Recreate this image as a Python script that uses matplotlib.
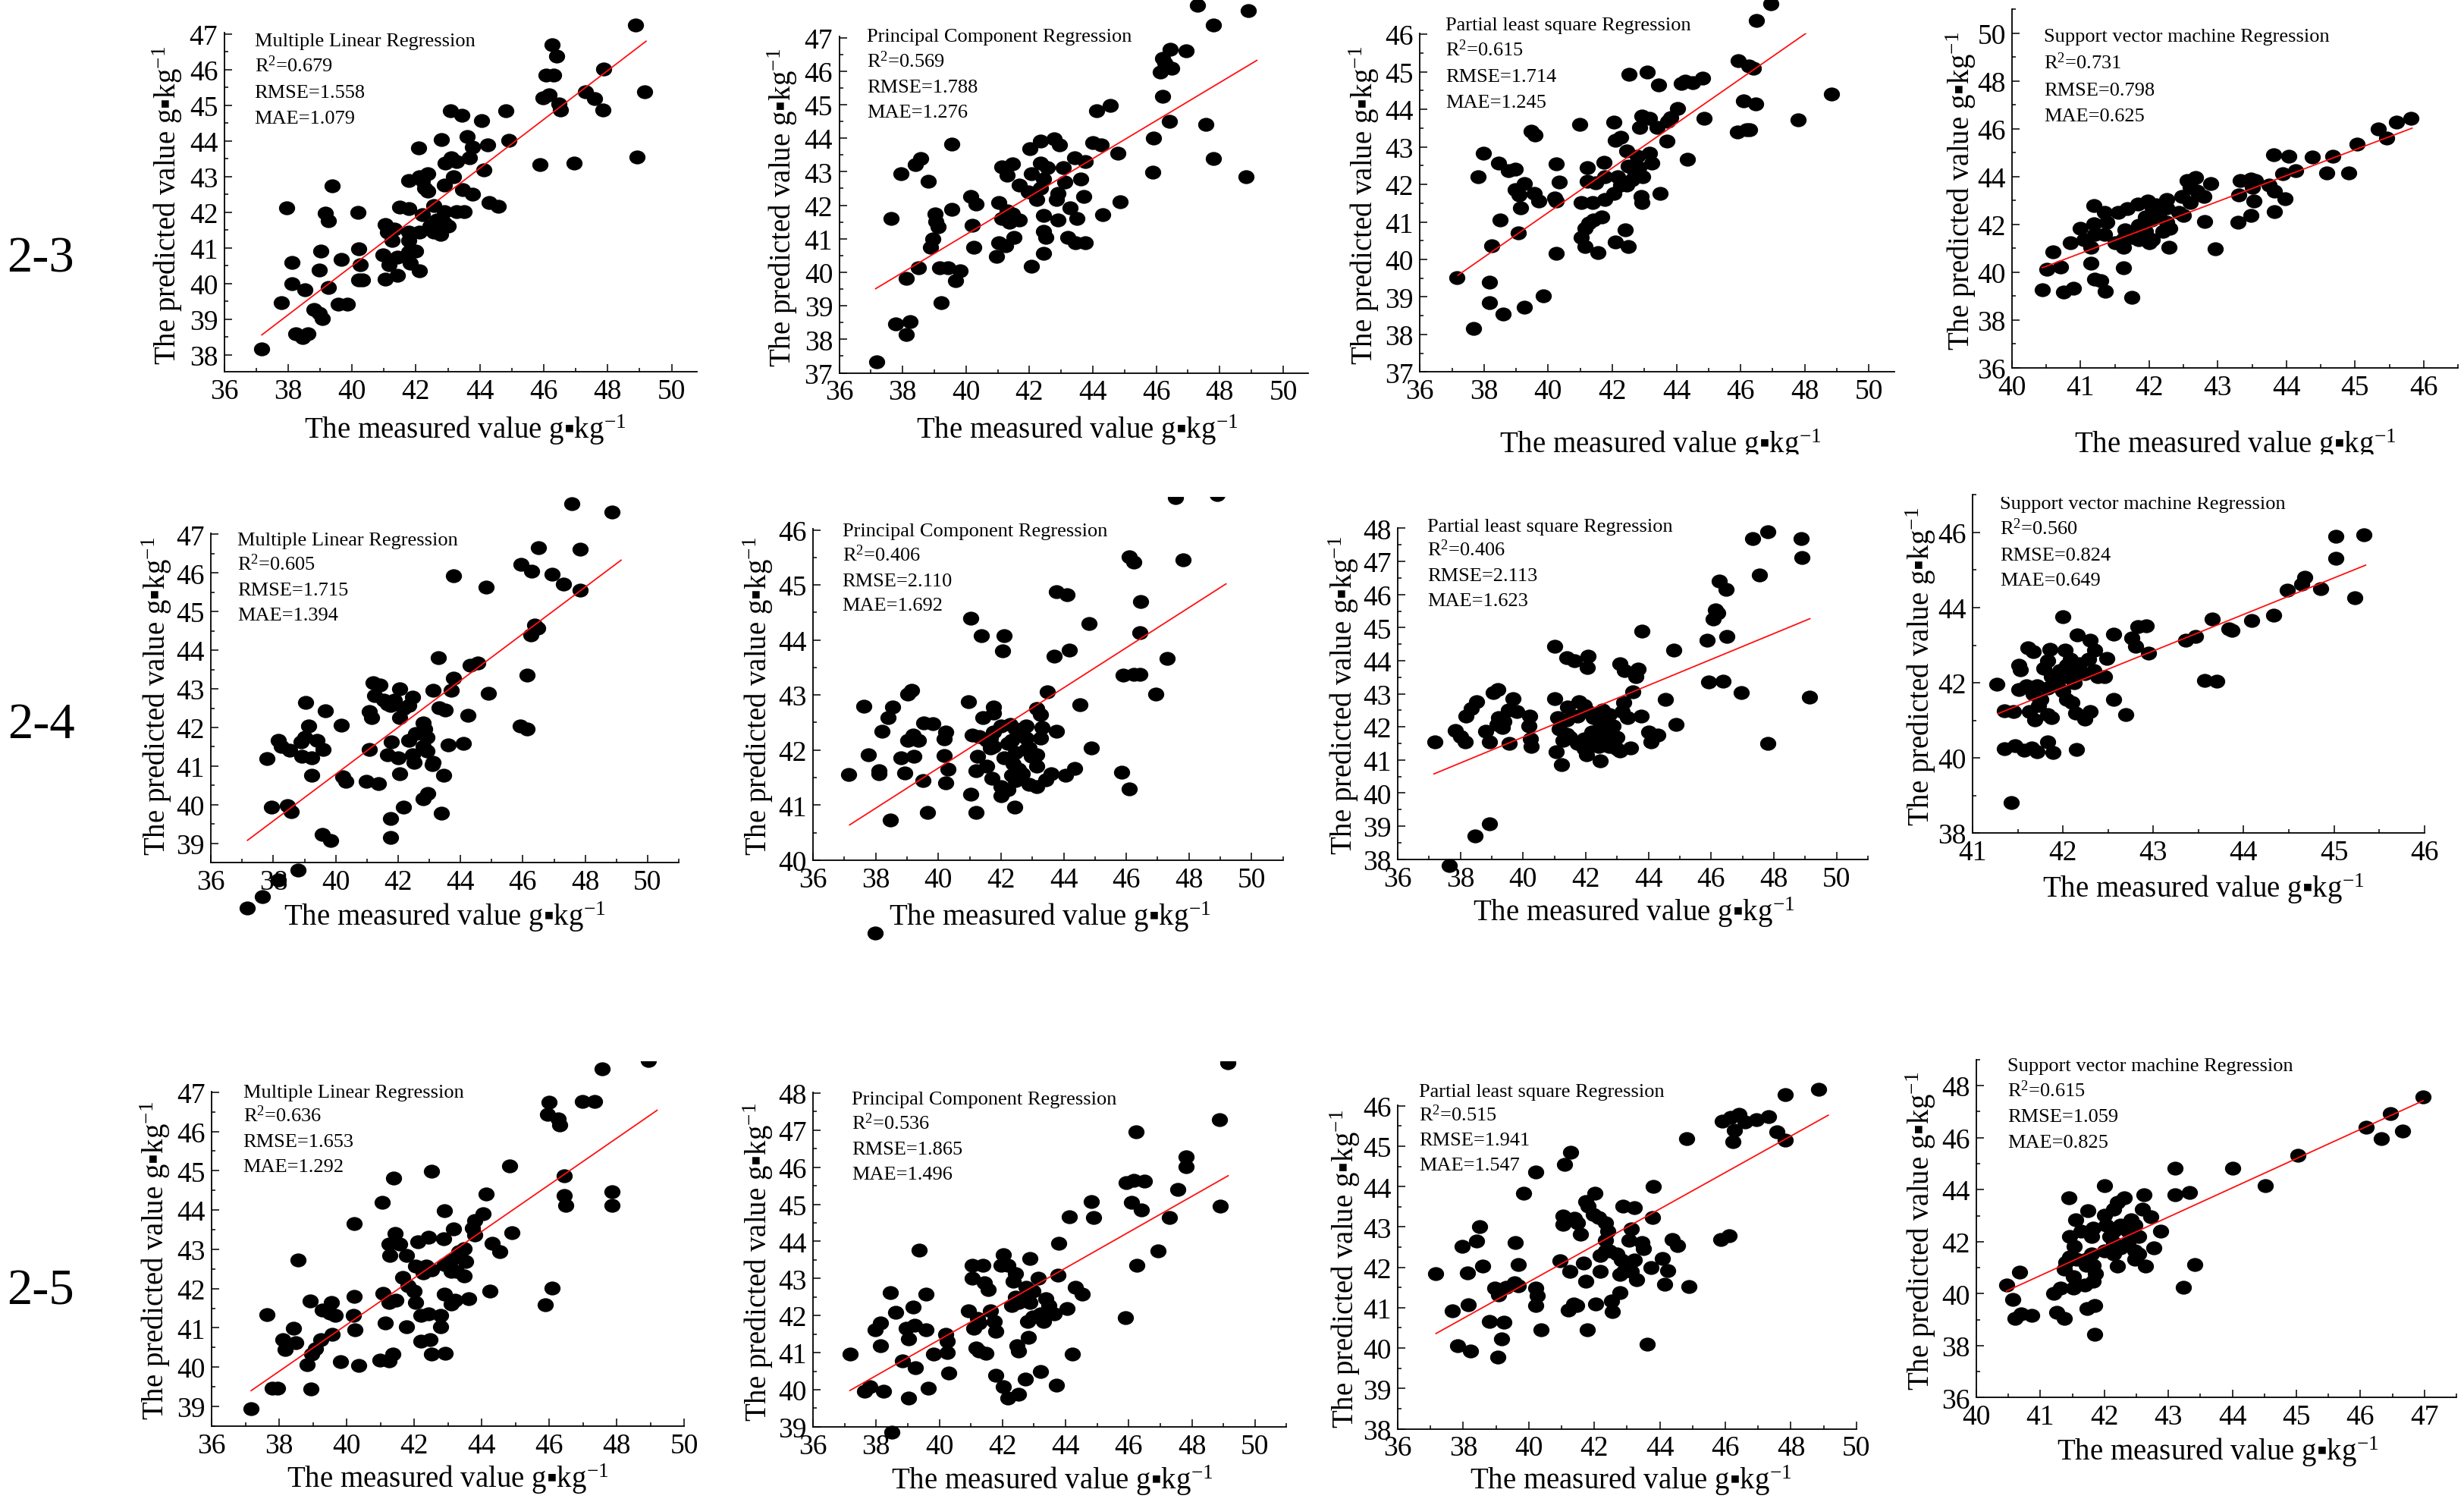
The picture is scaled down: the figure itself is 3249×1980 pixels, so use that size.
import numpy as np
import matplotlib
matplotlib.use("Agg")
import matplotlib.pyplot as plt
from matplotlib.path import Path
from matplotlib.transforms import Affine2D, Bbox, TransformedBbox
from matplotlib.ticker import MultipleLocator, FormatStrFormatter

plt.rcParams["font.family"] = ["Liberation Serif", "DejaVu Serif"]
plt.rcParams["mathtext.fontset"] = "custom"
plt.rcParams["mathtext.rm"] = "Liberation Serif"
plt.rcParams["mathtext.it"] = "Liberation Serif:italic"
plt.rcParams["mathtext.bf"] = "Liberation Serif:bold"

# ---------------------------------------------------------------- data
row_labels = ["2-3", "2-4", "2-5"]
method_titles = ["Multiple Linear Regression", "Principal Component Regression",
                 "Partial least square Regression", "Support vector machine Regression"]
r2_values = [[0.679, 0.569, 0.615, 0.731],
             [0.605, 0.406, 0.406, 0.560],
             [0.636, 0.536, 0.515, 0.615]]
rmse_values = [[1.558, 1.788, 1.714, 0.798],
               [1.715, 2.110, 2.113, 0.824],
               [1.653, 1.865, 1.941, 1.059]]
mae_values = [[1.079, 1.276, 1.245, 0.625],
              [1.394, 1.692, 1.623, 0.649],
              [1.292, 1.496, 1.547, 0.825]]

# (measured, predicted)
pts_23_mlr = [(48.88,47.26),(46.25,46.71),(46.41,46.39),(46.08,45.84),(46.30,45.84),(47.87,46.02),
    (49.16,45.39),(45.97,45.21),(46.16,45.29),(46.47,45.04),(46.53,44.86),(47.31,45.39),(47.59,45.19),
    (47.84,44.88),(48.91,43.56),(45.89,43.33),(46.94,43.39),(43.09,44.85),(43.43,44.72),(44.06,44.57),
    (44.81,44.85),(44.90,44.02),(43.61,44.13),(43.78,43.82),(43.67,43.53),(44.25,43.90),(42.80,44.04),
    (42.08,43.80),(42.91,43.37),(43.11,43.53),(43.28,43.43),(44.12,43.18),(43.17,42.99),(41.77,42.90),
    (42.11,43.00),(42.38,43.08),(42.21,42.88),(42.27,42.68),(42.38,42.60),(42.89,42.76),(43.45,42.64),
    (43.78,42.50),(43.28,42.02),(43.50,42.02),(44.29,42.27),(44.57,42.17),(39.39,42.74),(37.96,42.12),
    (39.17,41.98),(39.25,41.76),(40.18,41.99),(41.49,42.15),(41.77,42.11),(42.21,41.94),(42.55,42.19),
    (42.89,42.02),(42.66,41.78),(42.89,41.70),(42.43,41.62),(42.77,41.54),(42.55,41.45),(43.00,41.62),
    (42.77,41.37),(41.04,41.66),(41.32,41.53),(41.10,41.45),(41.26,41.21),(41.77,41.45),(42.11,41.45),
    (41.77,41.21),(39.02,40.92),(38.13,40.60),(39.66,40.68),(40.22,40.98),(40.98,40.80),(41.43,40.74),
    (41.77,40.88),(41.99,40.92),(41.15,40.52),(41.82,40.56),(40.26,40.52),(38.97,40.38),(42.10,40.35),
    (41.43,40.23),(41.04,40.13),(40.20,40.11),(40.33,40.11),(38.13,40.00),(38.52,39.82),(39.25,39.89),
    (37.79,39.46),(39.58,39.43),(39.86,39.43),(38.80,39.27),(38.97,39.17),(39.06,39.02),(38.24,38.60),
    (38.46,38.48),(38.61,38.60),(37.18,38.17)]

pts_23_pcr = [(47.31,47.97),(48.91,47.81),(47.81,47.38),(46.43,46.65),(46.93,46.60),(46.19,46.37),
    (46.27,46.24),(46.13,45.98),(46.49,46.08),(46.21,45.24),(46.41,44.51),(47.56,44.40),(45.91,44.00),
    (47.81,43.40),(45.88,42.99),(48.84,42.84),(44.12,44.81),(44.54,44.98),(44.01,43.86),(44.27,43.81),
    (44.79,43.55),(44.87,42.10),(44.30,41.72),(39.55,43.83),(37.95,42.95),(38.41,43.21),(38.56,43.40),
    (38.81,42.71),(37.65,41.61),(42.02,43.68),(42.34,43.92),(42.78,43.97),(42.95,43.81),(43.42,43.42),
    (43.77,43.29),(43.61,42.79),(43.72,42.25),(41.14,43.14),(41.47,43.23),(41.30,42.90),(41.69,42.60),
    (42.07,42.95),(42.34,43.25),(42.56,43.12),(42.45,42.77),(43.06,43.12),(43.11,42.69),(42.89,42.34),
    (42.84,42.17),(42.34,42.52),(41.96,42.39),(42.23,42.17),(40.15,42.26),(40.31,42.04),(39.55,41.87),
    (39.03,41.74),(39.05,41.52),(39.11,41.35),(38.96,41.00),(38.89,40.74),(40.20,41.39),(40.24,40.74),
    (41.03,42.08),(41.30,41.82),(41.14,41.61),(41.47,41.74),(41.69,41.56),(41.36,41.48),(41.25,40.78),
    (40.97,40.48),(41.03,40.87),(41.52,41.04),(42.45,41.69),(42.45,41.22),(42.51,41.04),(42.45,40.57),
    (42.89,41.56),(43.28,41.91),(43.50,41.61),(43.22,41.04),(43.44,40.87),(43.77,40.89),(42.07,40.18),
    (38.50,40.13),(39.16,40.13),(39.44,40.13),(39.82,40.05),(39.66,39.74),(38.12,39.81),(39.22,39.10),
    (37.79,38.45),(38.23,38.52),(38.12,38.14),(37.19,37.32)]

pts_23_pls = [(46.94,46.81),(46.49,46.37),(45.93,45.30),(46.27,45.16),(46.40,45.09),(48.83,44.41),
    (47.80,43.72),(45.90,43.39),(46.18,43.45),(46.29,43.46),(46.09,44.22),(46.46,44.14),(42.52,44.93),
    (43.08,45.00),(43.44,44.65),(44.15,44.69),(44.28,44.76),(44.50,44.70),(44.82,44.84),(44.04,44.03),
    (44.86,43.76),(40.99,43.59),(42.05,43.66),(39.46,43.41),(39.59,43.31),(42.92,43.83),(43.17,43.76),
    (42.85,43.52),(43.39,43.52),(43.72,43.68),(43.83,43.79),(43.70,43.15),(42.10,43.18),(42.27,43.25),
    (42.44,42.90),(44.34,42.66),(43.17,42.83),(43.22,42.56),(42.77,42.75),(42.83,42.44),(42.94,42.21),
    (42.50,42.48),(42.72,42.29),(42.61,42.13),(42.44,41.98),(42.16,42.21),(42.27,41.98),(41.21,42.44),
    (41.21,42.09),(41.49,42.05),(41.74,42.58),(41.77,42.21),(42.05,41.75),(41.77,41.59),(42.89,41.67),
    (42.92,41.51),(43.48,41.76),(41.02,41.51),(41.38,41.51),(41.66,41.13),(41.16,40.82),(41.04,40.59),
    (41.16,40.35),(41.27,40.97),(41.40,41.05),(42.41,40.78),(42.50,40.35),(42.10,40.47),(41.55,40.18),
    (40.24,40.16),(40.26,42.54),(40.35,42.06),(40.21,41.63),(40.26,41.55),(37.98,42.83),(37.81,42.20),
    (38.46,42.56),(38.76,42.37),(38.98,42.40),(39.26,42.02),(38.98,41.86),(39.09,41.71),(39.57,41.75),
    (39.71,41.55),(39.15,41.38),(38.50,41.05),(39.06,40.70),(38.25,40.37),(37.16,39.52),(38.17,39.39),
    (38.17,38.85),(38.59,38.54),(39.26,38.73),(39.84,39.02),(37.67,38.17)]

pts_23_svr = [(45.81,46.43),(45.61,46.27),(45.34,45.99),(45.46,45.63),(45.03,45.36),(44.68,44.87),
    (44.59,44.17),(44.38,44.81),(44.91,44.17),(44.03,44.85),(43.95,44.14),(44.13,44.26),(43.98,43.07),
    (43.81,44.93),(43.75,43.66),(43.83,43.41),(43.83,42.54),(43.33,43.84),(43.48,43.90),(43.55,43.84),
    (43.50,43.54),(43.53,42.99),(43.31,43.23),(43.48,42.38),(43.29,42.08),(42.96,40.98),(42.90,43.72),
    (42.80,43.17),(42.81,42.14),(42.55,43.84),(42.68,43.96),(42.60,43.54),(42.70,43.41),(42.48,43.17),
    (42.60,42.93),(42.50,42.38),(42.43,42.50),(42.25,43.05),(42.10,42.81),(42.25,42.69),(42.15,42.32),
    (42.30,41.83),(42.25,42.08),(42.20,41.71),(41.98,42.99),(42.05,42.69),(41.95,42.32),(42.03,42.20),
    (41.85,41.96),(41.95,41.71),(41.75,41.47),(41.85,41.35),(42.00,41.23),(42.05,41.35),(41.83,42.87),
    (41.68,42.68),(41.55,42.50),(41.35,42.50),(41.38,42.08),(41.19,42.78),(41.19,42.02),(41.00,41.83),
    (41.05,41.35),(41.20,41.59),(41.15,41.04),(40.85,41.23),(40.60,40.86),(41.35,41.59),(41.50,41.23),
    (41.63,41.41),(41.65,41.77),(41.63,41.04),(42.29,41.04),(41.15,40.38),(40.51,40.13),(40.71,40.23),
    (41.62,40.19),(41.20,39.71),(41.29,39.65),(40.44,39.26),(40.75,39.16),(40.90,39.34),(41.36,39.19),
    (41.75,38.94)]

pts_24_mlr = [(47.57,47.79),(48.87,47.57),(46.51,46.65),(47.84,46.61),(45.93,46.22),(46.28,46.05),
    (46.94,45.97),(47.31,45.71),(47.84,45.55),(43.78,45.92),(44.82,45.64),(46.37,44.66),(46.48,44.57),
    (46.25,44.40),(46.14,43.35),(45.91,42.04),(46.14,41.96),(43.29,43.80),(44.32,43.61),(44.55,43.67),
    (43.78,43.27),(43.70,42.97),(44.90,42.88),(44.24,42.32),(43.13,42.97),(43.32,42.52),(43.52,42.45),
    (44.09,41.59),(43.61,41.55),(43.47,40.76),(43.13,41.10),(43.09,41.03),(43.40,39.79),(42.80,42.11),
    (42.86,41.96),(42.57,41.85),(42.92,41.74),(42.80,41.51),(42.92,41.40),(42.46,41.29),(42.52,41.10),
    (42.34,41.66),(42.06,43.01),(42.46,42.79),(42.34,42.56),(42.06,42.26),(42.17,42.49),(41.20,43.16),
    (41.43,43.09),(41.25,42.82),(41.54,42.71),(41.66,42.60),(41.89,42.71),(41.08,42.41),(41.14,42.26),
    (41.77,42.56),(41.08,41.44),(41.79,41.62),(41.66,41.29),(42.00,41.21),(42.06,40.80),(40.97,40.61),
    (41.37,40.54),(40.22,40.73),(40.33,40.61),(41.75,39.64),(41.77,39.15),(42.17,39.94),(42.80,40.16),
    (42.94,40.30),(40.18,42.05),(39.03,42.65),(39.67,42.43),(39.14,42.04),(39.01,41.74),(38.90,41.63),
    (38.92,41.25),(39.24,41.21),(39.41,41.66),(39.59,41.44),(39.24,40.76),(38.15,41.66),(38.26,41.51),
    (38.53,41.42),(37.80,41.20),(37.95,39.94),(38.44,39.98),(38.57,39.83),(39.56,39.23),(39.84,39.08),
    (38.80,38.30),(38.15,38.05),(37.66,37.63),(37.17,37.33)]

pts_24_pcr = [(47.58,46.59),(48.90,46.65),(46.09,45.51),(46.23,45.42),(47.81,45.46),(43.77,44.88),
    (44.11,44.83),(46.46,44.70),(46.43,44.14),(44.80,44.30),(44.19,43.81),(43.69,43.71),(47.31,43.67),
    (45.91,43.36),(46.25,43.38),(46.43,43.38),(46.94,43.02),(44.51,42.83),(44.88,42.04),(45.86,41.60),
    (46.09,41.29),(41.03,44.39),(41.37,44.08),(42.09,44.08),(42.06,43.80),(43.49,43.06),(43.14,42.76),
    (43.26,42.65),(43.31,42.41),(43.77,42.34),(43.26,42.22),(40.95,42.88),(41.75,42.78),(41.77,42.67),
    (41.41,42.59),(41.09,42.27),(41.31,42.25),(41.66,42.22),(41.77,42.33),(42.00,42.44),(42.29,42.46),
    (42.46,42.38),(42.80,42.44),(42.69,42.30),(42.80,42.22),(41.26,41.88),(41.66,42.04),(41.54,42.17),
    (41.77,42.07),(42.23,42.12),(42.34,42.17),(42.11,41.86),(42.46,41.96),(42.80,42.01),(42.91,42.04),
    (43.14,41.91),(42.97,41.88),(41.54,41.71),(41.71,41.49),(41.20,41.62),(42.40,41.75),(42.57,41.65),
    (42.34,41.54),(42.46,41.44),(42.69,41.57),(42.91,41.38),(43.14,41.33),(43.43,41.46),(43.60,41.57),
    (44.06,41.54),(44.34,41.67),(43.14,41.71),(42.00,41.33),(42.23,41.28),(42.00,41.17),(41.03,41.20),
    (41.20,40.87),(42.43,40.96),(37.63,42.80),(38.55,42.78),(38.40,42.59),(38.21,42.34),(37.77,41.91),
    (38.11,41.62),(38.11,41.57),(37.14,41.55),(39.03,43.02),(39.14,43.09),(39.03,42.17),(39.20,42.27),
    (39.37,42.17),(38.80,41.86),(39.23,41.88),(38.94,41.58),(39.54,42.49),(39.83,42.48),(40.23,42.33),
    (40.19,42.20),(40.19,41.90),(40.31,41.65),(40.23,41.41),(39.52,41.44),(39.66,40.86),(38.46,40.73),
    (37.98,38.68)]

pts_24_pls = [(47.32,47.68),(47.80,47.89),(48.87,47.68),(48.90,47.11),(47.55,46.58),(46.27,46.41),
    (46.47,46.16),(46.13,45.53),(46.21,45.44),(46.07,45.27),(45.86,44.61),(46.50,44.73),(44.81,44.32),
    (43.79,44.90),(45.93,43.36),(46.39,43.39),(46.96,43.04),(49.13,42.90),(47.80,41.50),(44.53,42.83),
    (44.87,42.07),(43.76,42.33),(44.01,41.85),(44.30,41.75),(44.07,41.55),(43.10,43.91),(43.24,43.69),
    (43.67,43.74),(43.61,43.52),(43.50,43.06),(43.21,42.73),(43.33,42.29),(43.16,42.47),(41.02,44.44),
    (41.39,44.09),(41.64,44.00),(42.07,44.13),(42.05,43.80),(41.00,42.86),(41.41,42.60),(41.79,42.77),
    (41.10,42.29),(41.39,42.20),(41.73,42.33),(42.07,42.47),(42.24,42.29),(41.96,42.64),(42.53,42.51),
    (42.76,42.38),(42.47,42.12),(42.87,42.03),(42.64,41.85),(42.42,41.77),(42.19,41.85),(42.64,41.59),
    (42.99,41.68),(41.16,41.94),(41.39,41.77),(41.27,41.59),(41.50,41.68),(41.73,41.50),(41.96,41.63),
    (42.19,41.59),(42.42,41.42),(42.53,41.46),(42.76,41.42),(42.99,41.33),(43.10,41.28),(43.44,41.37),
    (41.05,41.24),(41.22,40.85),(42.02,41.15),(42.47,40.98),(41.96,41.33),(39.68,42.86),(39.05,43.03),
    (39.20,43.12),(38.53,42.77),(38.36,42.55),(38.19,42.33),(37.83,41.90),(38.00,41.70),(38.15,41.55),
    (37.19,41.55),(39.22,42.29),(39.39,42.16),(39.16,42.07),(39.33,41.98),(38.82,41.87),(38.94,41.55),
    (39.56,41.49),(39.54,42.51),(39.81,42.47),(40.22,42.33),(40.19,42.03),(40.24,41.63),(40.26,41.40),
    (38.93,39.07),(38.48,38.70),(37.64,37.81)]

pts_24_svr = [(45.02,45.90),(45.33,45.94),(45.02,45.32),(45.23,44.26),(44.68,44.80),(44.64,44.63),
    (44.48,44.47),(44.85,44.51),(44.33,43.80),(44.09,43.66),(43.84,43.43),(43.87,43.39),(43.65,43.70),
    (43.36,43.13),(43.47,43.24),(43.57,42.07),(43.70,42.05),(42.95,42.78),(42.76,43.20),(42.83,43.49),
    (42.92,43.51),(42.80,42.97),(42.56,43.30),(42.56,41.55),(42.69,41.16),(42.00,43.76),(42.48,42.64),
    (42.46,42.16),(42.16,43.28),(42.30,43.13),(42.35,42.86),(42.28,42.62),(42.18,42.51),(42.12,42.32),
    (42.24,42.24),(42.34,42.32),(42.38,42.16),(42.02,42.86),(42.08,42.62),(42.04,42.47),(41.96,42.32),
    (42.04,42.16),(42.12,42.01),(41.94,41.93),(42.00,41.78),(42.04,41.55),(42.10,41.47),(41.85,42.89),
    (41.83,42.59),(41.79,42.39),(41.87,42.16),(41.91,42.01),(41.83,41.85),(41.67,42.82),(41.61,42.93),
    (41.51,42.47),(41.53,42.35),(41.59,41.93),(41.51,41.82),(41.71,41.93),(41.67,41.70),(41.75,41.55),
    (41.73,41.39),(41.27,41.97),(41.35,41.25),(41.45,41.23),(41.63,41.24),(41.69,41.01),(41.83,41.16),
    (41.87,41.08),(42.14,41.20),(42.24,41.04),(42.30,41.24),(41.35,40.24),(41.47,40.33),(41.57,40.20),
    (41.65,40.27),(41.71,40.17),(41.83,40.43),(41.89,40.14),(42.15,40.22),(41.43,38.81)]

pts_25_mlr = [(47.58,47.60),(48.94,47.80),(45.99,46.74),(46.98,46.76),(47.35,46.76),(45.95,46.43),
    (46.27,46.32),(46.31,46.16),(44.82,45.13),(46.45,44.87),(46.45,44.36),(46.50,44.12),(47.86,44.47),
    (47.86,44.12),(44.89,43.42),(46.10,42.01),(45.88,41.58),(42.52,44.99),(41.39,44.82),(41.05,44.19),
    (44.14,44.41),(44.04,43.90),(43.79,43.74),(43.74,43.54),(43.79,43.37),(42.89,43.98),(43.16,43.51),
    (42.87,43.27),(42.42,43.31),(42.11,43.20),(44.32,43.16),(44.54,42.94),(41.43,43.40),(41.57,43.13),
    (41.25,43.13),(41.28,42.84),(41.78,42.84),(42.04,42.58),(42.26,42.40),(42.52,42.47),(42.36,42.58),
    (42.89,42.62),(43.10,42.73),(43.32,42.94),(43.48,43.02),(43.37,42.80),(43.53,42.69),(43.26,42.44),
    (43.48,42.33),(43.10,42.44),(41.67,42.29),(41.83,42.07),(41.99,41.93),(42.89,41.85),(43.21,41.70),
    (43.61,41.74),(43.11,41.60),(44.25,41.93),(42.04,41.64),(41.07,41.87),(41.25,41.64),(41.46,41.71),
    (42.20,41.31),(42.42,41.35),(42.79,41.31),(42.79,41.02),(41.14,41.13),(41.78,41.02),(42.20,40.66),
    (42.47,40.69),(42.52,40.33),(42.91,40.36),(40.98,40.18),(41.25,40.15),(41.36,40.33),(40.22,41.80),
    (40.19,41.31),(40.24,40.95),(40.35,40.04),(39.82,40.13),(40.22,43.66),(38.57,42.73),(38.92,41.69),
    (39.27,41.45),(39.50,41.38),(39.56,41.64),(39.66,41.31),(39.58,40.84),(39.23,40.69),(39.08,40.47),
    (38.97,40.33),(38.84,40.07),(38.42,40.98),(38.12,40.69),(38.17,40.44),(38.49,40.62),(37.64,41.33),
    (37.80,39.46),(37.96,39.47),(38.95,39.44),(37.17,38.95)]

pts_25_pcr = [(49.15,48.81),(48.87,47.28),(46.24,46.96),(47.83,46.28),(47.83,46.02),(45.92,45.58),
    (46.15,45.65),(46.49,45.62),(47.56,45.41),(46.09,45.05),(46.40,44.85),(48.89,44.96),(47.30,44.64),
    (46.94,43.75),(46.26,43.36),(45.90,41.95),(44.81,45.08),(44.88,44.64),(44.13,44.67),(43.79,43.95),
    (43.77,43.08),(44.31,42.77),(44.54,42.58),(44.05,42.18),(44.22,40.96),(43.71,40.12),(42.86,43.54),
    (42.04,43.65),(41.95,43.35),(42.18,43.35),(42.41,43.12),(42.35,42.92),(41.05,43.35),(41.39,43.35),
    (41.05,43.00),(41.44,42.88),(41.56,42.69),(43.14,43.00),(42.97,42.65),(42.86,42.35),(42.75,42.77),
    (43.37,42.46),(43.48,42.27),(43.65,42.04),(42.41,42.50),(42.52,42.35),(42.29,42.27),(42.58,42.46),
    (40.93,42.12),(41.22,41.92),(41.10,41.65),(41.27,41.81),(41.61,42.12),(41.73,41.85),(41.78,41.58),
    (42.80,41.85),(42.97,41.96),(43.20,42.04),(43.31,41.85),(42.83,41.42),(42.46,41.19),(42.52,41.04),
    (41.16,41.12),(41.27,41.04),(41.48,40.98),(43.20,40.50),(41.78,40.38),(42.72,40.28),(42.04,40.08),
    (42.18,39.77),(42.52,39.88),(40.20,41.50),(40.25,41.31),(40.25,41.00),(40.31,40.46),(39.82,40.96),
    (39.57,42.58),(39.37,43.77),(39.17,42.23),(39.57,41.62),(39.23,41.73),(38.95,41.65),(39.03,41.38),
    (38.61,42.08),(38.44,42.62),(38.15,41.81),(37.98,41.62),(38.15,41.18),(38.83,40.77),(39.25,40.59),
    (39.66,40.04),(37.64,39.96),(37.81,40.08),(38.23,39.95),(39.03,39.77),(37.17,40.96),(38.49,38.85)]

pts_25_pls = [(48.85,46.41),(47.83,46.28),(45.90,45.63),(46.17,45.72),(46.41,45.79),(46.59,45.61),
    (46.28,45.40),(46.23,45.12),(46.94,45.66),(47.32,45.73),(47.57,45.36),(47.83,45.15),(44.81,45.19),
    (43.79,44.01),(45.87,42.69),(46.12,42.78),(44.37,42.69),(44.54,42.54),(44.08,42.22),(44.23,41.92),
    (44.15,41.58),(44.89,41.53),(43.72,41.99),(43.77,43.24),(42.88,43.51),(43.23,43.47),(43.12,42.95),
    (43.06,42.68),(43.45,42.61),(43.50,42.47),(42.03,43.84),(41.75,43.63),(41.81,43.52),(41.97,43.31),
    (42.14,43.24),(42.35,43.10),(42.41,42.89),(42.35,42.68),(41.04,43.28),(41.04,43.07),(41.39,43.21),
    (41.48,43.10),(41.59,42.82),(41.10,44.55),(41.28,44.86),(40.22,44.37),(39.84,43.84),(39.60,42.62),
    (39.68,42.06),(40.96,42.17),(41.26,41.90),(41.68,42.11),(42.19,42.29),(42.35,42.40),(42.19,41.90),
    (42.46,42.40),(42.68,42.33),(42.84,42.18),(43.01,42.04),(43.23,42.18),(42.90,41.90),(42.79,41.83),
    (43.12,41.90),(43.28,41.69),(41.75,41.65),(42.79,41.37),(42.52,41.16),(42.55,40.91),(42.05,41.09),
    (41.21,40.95),(41.46,41.05),(41.37,41.09),(41.79,40.45),(43.61,40.10),(40.37,40.45),(40.22,41.48),
    (40.26,41.30),(40.22,41.05),(38.97,41.48),(39.08,41.32),(39.30,41.51),(39.57,41.62),(39.68,41.55),
    (38.81,40.66),(39.24,40.64),(39.17,40.22),(39.06,39.77),(37.82,40.06),(38.23,39.92),(37.66,40.93),
    (38.15,41.07),(38.12,41.87),(38.59,42.04),(37.97,42.52),(38.42,42.66),(38.51,43.00),(37.17,41.84)]

pts_25_svr = [(46.98,47.58),(46.47,46.92),(46.09,46.39),(46.33,45.95),(46.66,46.26),(45.02,45.33),
    (44.00,44.81),(44.52,44.15),(43.11,44.83),(43.11,43.79),(43.33,43.90),(42.00,44.15),(41.45,43.68),
    (41.74,43.18),(42.00,43.02),(42.14,43.24),(42.31,43.68),(42.20,43.51),(42.62,43.79),(42.59,43.24),
    (42.73,42.96),(41.55,42.85),(41.63,42.41),(41.46,42.19),(41.83,42.52),(41.80,42.19),(42.03,42.63),
    (42.14,42.41),(42.25,42.63),(42.37,42.41),(42.42,42.85),(42.48,42.63),(42.54,42.19),(42.08,42.19),
    (42.14,41.97),(42.25,41.75),(42.37,41.97),(42.48,41.64),(42.14,41.53),(42.00,41.64),(42.88,42.41),
    (42.77,41.75),(42.64,41.07),(42.20,41.07),(42.48,41.31),(42.54,41.53),(41.53,41.81),(41.46,41.42),
    (41.40,41.20),(41.57,41.31),(41.72,41.31),(41.80,41.53),(41.83,41.09),(41.86,40.76),(41.72,41.09),
    (41.38,40.93),(41.52,40.65),(41.52,40.21),(41.69,40.32),(41.83,40.49),(41.73,39.44),(41.85,39.55),
    (41.85,38.43),(41.21,40.01),(41.32,40.21),(41.26,39.28),(41.38,39.06),(40.68,40.82),(40.47,40.34),
    (40.57,39.79),(40.60,39.06),(40.70,39.22),(40.87,39.17),(43.24,40.23),(43.41,41.11)]

# regression line end points (measured, predicted)
fit_23_mlr = [(37.18, 38.56), (49.20, 46.80)]
fit_23_pcr = [(37.15, 39.51), (49.17, 46.32)]
fit_23_pls = [(37.19, 39.58), (49.14, 46.68)]
fit_23_svr = [(40.44, 40.19), (45.83, 46.03)]
fit_24_mlr = [(37.17, 39.08), (49.15, 46.33)]
fit_24_pcr = [(37.17, 40.64), (49.18, 45.02)]
fit_24_pls = [(37.16, 40.58), (49.15, 45.27)]
fit_24_svr = [(41.28, 41.18), (45.35, 45.13)]
fit_25_mlr = [(37.17, 39.40), (49.20, 46.54)]
fit_25_pcr = [(37.17, 39.98), (49.15, 45.77)]
fit_25_pls = [(37.17, 40.36), (49.14, 45.77)]
fit_25_svr = [(40.47, 40.10), (46.98, 47.42)]

points = [pts_23_mlr, pts_23_pcr, pts_23_pls, pts_23_svr,
          pts_24_mlr, pts_24_pcr, pts_24_pls, pts_24_svr,
          pts_25_mlr, pts_25_pcr, pts_25_pls, pts_25_svr]
fits = [fit_23_mlr, fit_23_pcr, fit_23_pls, fit_23_svr,
        fit_24_mlr, fit_24_pcr, fit_24_pls, fit_24_svr,
        fit_25_mlr, fit_25_pcr, fit_25_pls, fit_25_svr]

# axis ranges and tick steps: (xlim, ylim, x major, x minor, y major, y minor)
axis_specs = [
    ((36, 50.8), (37.53, 47.05), 2, 1, 1, 0.5),
    ((36, 50.8), (37, 47.03), 2, 1, 1, 0.5),
    ((36, 50.8), (37, 46.02), 2, 1, 1, 0.5),
    ((40, 46.5), (36, 51), 1, 0.5, 2, 1),
    ((36, 51), (38.5, 47.02), 2, 1, 1, 0.5),
    ((36, 51), (40, 46.02), 2, 1, 1, 0.5),
    ((36, 51), (38, 48.02), 2, 1, 1, 0.5),
    ((41, 46), (38, 47), 1, 0.5, 2, 1),
    ((36, 50), (38.5, 47.02), 2, 1, 1, 0.5),
    ((36, 51), (39, 48.02), 2, 1, 1, 0.5),
    ((36, 50), (38, 46.02), 2, 1, 1, 0.5),
    ((40, 47.5), (36, 49), 1, 0.5, 2, 1),
]

# ---------------------------------------------------------------- layout (pixels)
W, H = 3249, 1981
axes_boxes_px = [  # left, top, right, bottom
    (295.6, 43.6, 919.3, 490.8), (1106.5, 49.2, 1725.4, 492.5),
    (1872.3, 45.2, 2498.0, 491.4), (2653.0, 13.4, 3241.0, 486.0),
    (278.2, 704.3, 895.0, 1138.3), (1072.0, 698.2, 1691.7, 1134.8),
    (1842.9, 696.6, 2463.0, 1133.7), (2601.3, 653.4, 3196.6, 1099.2),
    (279.1, 1439.8, 902.0, 1880.8), (1072.0, 1440.9, 1696.4, 1881.9),
    (1842.9, 1457.8, 2447.9, 1884.5), (2606.0, 1397.9, 3238.9, 1843.4)]
note_px = [  # x, first baseline, line gap
    (335.7, 61.2, 33.8), (1143.3, 55.5, 33.2), (1906.3, 40.2, 33.8), (2695.1, 55.5, 35.0),
    (313.0, 718.5, 33.2), (1110.7, 707.0, 32.8), (1882.5, 700.5, 32.8), (2637.1, 671.4, 33.6),
    (320.6, 1446.5, 32.7), (1123.0, 1456.0, 33.0), (1871.2, 1445.8, 32.3), (2647.2, 1412.0, 33.6)]
xlabel_px = [(613, 578), (1420, 578), (2189, 597), (2947, 597),
             (586, 1220), (1384, 1220), (2154, 1214), (2905, 1183),
             (590, 1961), (1387, 1963), (2150, 1963), (2924, 1925)]
ylabel_px = [(232, 270.7), (1043.4, 273.6), (1809.6, 270.8), (2596.8, 251.6),
             (217.8, 917.5), (1010.7, 918.4), (1782.5, 916.5), (2544.2, 879.2),
             (216.4, 1662.3), (1010.7, 1664.2), (1784.9, 1672.7), (2544.2, 1622.8)]
row_label_px = [(54, 342), (54, 957), (54, 1703)]
# visible vertical band of each panel (top, bottom)
panel_clip_px = [(0, 600)] * 4 + [(656, 1395)] * 4 + [(1400, 1981)] * 3 + [(1385, 1981)]

fig = plt.figure(figsize=(W / 100, H / 100), dpi=100)
fig.patch.set_facecolor("white")

ellipse = Path.unit_circle().transformed(Affine2D().scale(1.0, 0.86))

for k in range(12):
    r, c = divmod(k, 4)
    L, T, R, B = axes_boxes_px[k]
    ax = fig.add_axes([L / W, 1 - B / H, (R - L) / W, (B - T) / H])
    ax.patch.set_alpha(0)
    xlim, ylim, xmaj, xmin, ymaj, ymin = axis_specs[k]

    ct, cb = panel_clip_px[k]
    clip = TransformedBbox(Bbox.from_extents(0, 1 - cb / H, 1, 1 - ct / H),
                           fig.transFigure)

    arr = np.array(points[k])
    sc = ax.scatter(arr[:, 0], arr[:, 1], s=235, marker=ellipse, c="black",
                    linewidths=0, zorder=3)
    sc.set_clip_path(None)
    sc.set_clip_box(clip)

    fit = np.array(fits[k])
    ax.plot(fit[:, 0], fit[:, 1], color="#ff1010", lw=1.3, zorder=4)

    ax.set_xlim(*xlim)
    ax.set_ylim(*ylim)
    ax.xaxis.set_major_locator(MultipleLocator(xmaj))
    ax.xaxis.set_minor_locator(MultipleLocator(xmin))
    ax.yaxis.set_major_locator(MultipleLocator(ymaj))
    ax.yaxis.set_minor_locator(MultipleLocator(ymin))
    ax.xaxis.set_major_formatter(FormatStrFormatter("%d"))
    ax.yaxis.set_major_formatter(FormatStrFormatter("%d"))
    for s in ("top", "right"):
        ax.spines[s].set_visible(False)
    for s in ("left", "bottom"):
        ax.spines[s].set_linewidth(1.3)
    ax.tick_params(which="both", direction="in", width=1.1, labelsize=27)
    ax.tick_params(which="major", length=7)
    ax.tick_params(which="minor", length=3.5)
    ax.tick_params(axis="x", pad=6)
    ax.tick_params(axis="y", pad=6)

    nx, ny, gap = note_px[k]
    lines = [method_titles[c],
             "R$^2$=%.3f" % r2_values[r][c],
             "RMSE=%.3f" % rmse_values[r][c],
             "MAE=%.3f" % mae_values[r][c]]
    for j, s in enumerate(lines):
        fig.text(nx / W, 1 - (ny + j * gap) / H, s, fontsize=19, ha="left",
                 va="baseline", clip_on=True, clip_box=clip)

    xx, xy = xlabel_px[k]
    fig.text(xx / W, 1 - xy / H, "The measured value g\u25aakg$^{-1}$", fontsize=28,
             ha="center", va="baseline", clip_on=True, clip_box=clip)
    yx, yy = ylabel_px[k]
    fig.text(yx / W, 1 - yy / H, "The predicted value g\u25aakg$^{-1}$", fontsize=28,
             rotation=90, rotation_mode="anchor", ha="center", va="baseline",
             clip_on=True, clip_box=clip)

for lbl, (lx, ly) in zip(row_labels, row_label_px):
    fig.text(lx / W, 1 - ly / H, lbl, fontsize=48, ha="center", va="center")

fig.savefig("out.png", dpi=100, facecolor="white")
